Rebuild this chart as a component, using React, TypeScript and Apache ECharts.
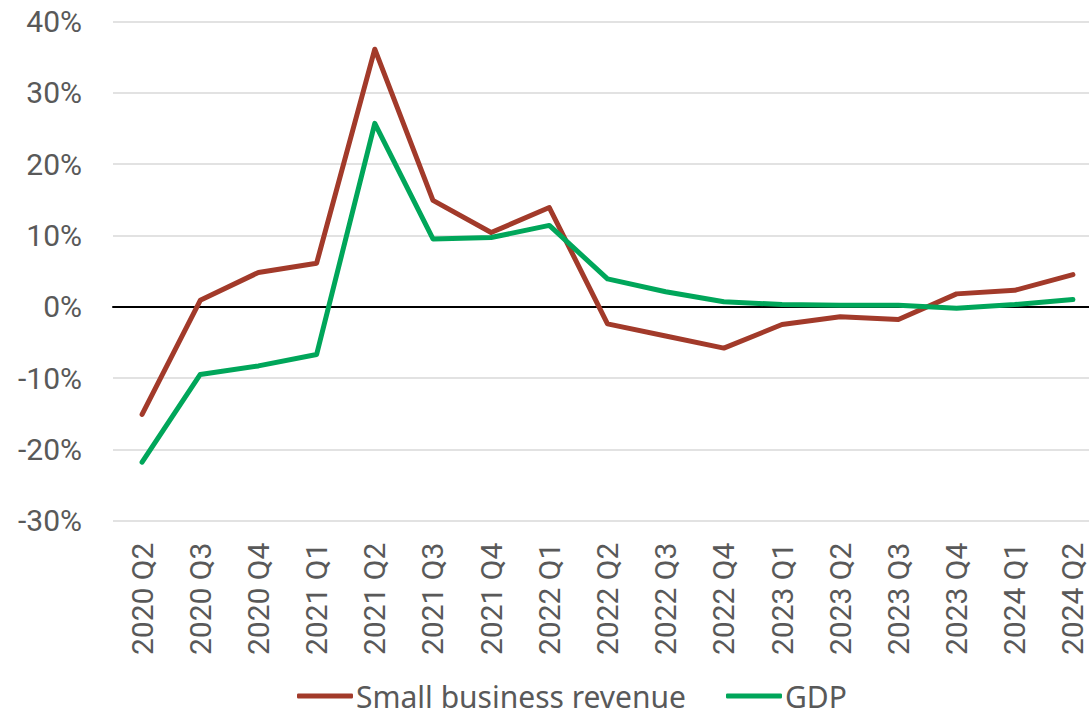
import React, { useEffect, useRef } from "react";
import * as echarts from "echarts";

const categories = [
  "2020 Q2", "2020 Q3", "2020 Q4", "2021 Q1", "2021 Q2", "2021 Q3", "2021 Q4", "2022 Q1",
  "2022 Q2", "2022 Q3", "2022 Q4", "2023 Q1", "2023 Q2", "2023 Q3", "2023 Q4", "2024 Q1", "2024 Q2",
];
const smallBusinessRevenue = [
  -15.1, 0.9, 4.8, 6.1, 36.1, 14.9, 10.4, 13.9, -2.4, -4.1, -5.8, -2.5, -1.4, -1.8, 1.8, 2.3, 4.5,
];
const gdp = [
  -21.8, -9.5, -8.3, -6.7, 25.7, 9.5, 9.7, 11.4, 3.9, 2.1, 0.7, 0.3, 0.2, 0.2, -0.2, 0.3, 1.0,
];
const yTicks = { min: -30, max: 40, interval: 10 };

const RED = "#A23A2A";
const GREEN = "#00A65A";
const FONT = "Roboto";
const LEGEND_FONT = "Noto Sans";

export default function App() {
  const ref = useRef<HTMLDivElement>(null);
  useEffect(() => {
    if (!ref.current) return;
    const chart = echarts.init(ref.current, undefined, { renderer: "svg" });
    chart.setOption({
      animation: false,
      backgroundColor: "#ffffff",
      textStyle: { fontFamily: FONT },
      grid: { left: 113, top: 21.4, width: 989, height: 499.3, containLabel: false },
      legend: {
        left: 292,
        top: 676,
        itemWidth: 56,
        itemHeight: 5,
        itemGap: 40,
        icon: "roundRect",
        textStyle: {
          fontFamily: LEGEND_FONT,
          fontSize: 30,
          lineHeight: 30,
          color: "#595959",
          padding: [0, 0, 0, -2],
        },
        data: ["Small business revenue", "GDP"],
      },
      xAxis: {
        type: "category",
        data: categories,
        boundaryGap: true,
        axisLine: { onZero: true, lineStyle: { color: "#000000", width: 2 } },
        axisTick: { show: false },
        axisLabel: {
          rotate: 90,
          margin: 22,
          fontFamily: FONT,
          fontSize: 30,
          color: "#595959",
          interval: 0,
        },
        splitLine: { show: false },
      },
      yAxis: {
        type: "value",
        min: yTicks.min,
        max: yTicks.max,
        interval: yTicks.interval,
        axisLine: { show: false },
        axisTick: { show: false },
        axisLabel: {
          formatter: "{value}%",
          margin: 31,
          fontFamily: FONT,
          fontSize: 30,
          color: "#595959",
        },
        splitLine: { lineStyle: { color: "#d9d9d9", width: 1.5 } },
      },
      series: [
        {
          name: "Small business revenue",
          type: "line",
          data: smallBusinessRevenue,
          symbol: "none",
          lineStyle: { color: RED, width: 5, cap: "round", join: "round" },
          itemStyle: { color: RED },
        },
        {
          name: "GDP",
          type: "line",
          data: gdp,
          symbol: "none",
          lineStyle: { color: GREEN, width: 5, cap: "round", join: "round" },
          itemStyle: { color: GREEN },
        },
      ],
    });
    return () => chart.dispose();
  }, []);
  return (
    <div style={{ position: "fixed", left: 0, top: 0, width: 1089, height: 717, overflow: "hidden", background: "#fff" }}>
      <div ref={ref} style={{ width: 1110, height: 717 }} />
    </div>
  );
}
